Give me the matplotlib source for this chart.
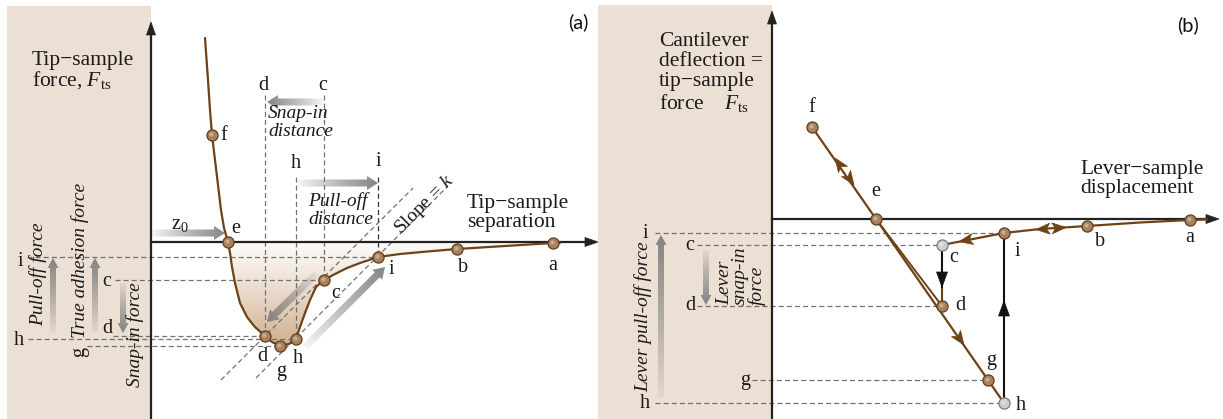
import numpy as np
import matplotlib.pyplot as plt
import matplotlib.patches as mpatches

plt.rcParams['font.family'] = ['Liberation Serif', 'DejaVu Serif']
plt.rcParams['mathtext.fontset'] = 'custom'
plt.rcParams['mathtext.rm'] = 'Liberation Serif'
plt.rcParams['mathtext.it'] = 'Liberation Serif:italic'

BEIGE = '#ecdfd3'
BROWN = '#6f4216'
DOT = '#a8825c'
DOT_EDGE = '#5e3e20'
DASH = '#707070'
AXIS = '#222222'

# ---- panel (a): tip-sample force against separation (origin at axis crossing)
curve_sep = [54, 57, 59, 61, 64, 67, 70, 73, 77, 79, 81, 84, 89, 96, 104, 114, 121, 129,
             138, 145, 149, 154, 159, 165, 173, 182, 196, 209, 227, 249, 282, 306, 354, 402, 409]
curve_force = [204, 162, 132, 107, 82, 57, 32, 14, 0, -11, -25, -41, -61, -75, -85, -94, -100, -104,
               -102, -97, -85, -71, -58, -45, -38, -33, -26, -21, -15, -12, -9, -7, -4, -1, -1]

pts_a_names = ['f', 'e', 'd', 'g', 'h', 'c', 'i', 'b', 'a']
pts_a_sep = [61, 77, 114, 129, 145, 173, 227, 306, 402]
pts_a_force = [107, 0, -94, -104, -97, -38, -15, -7, -1]

# force levels marked on the left of panel (a)
lev_a_names = ['i', 'c', 'd', 'h', 'g']
lev_a_force = [-15, -38, -94, -97, -104]
lev_a_start = [-124, -36, -38, -123, -64]

# ---- panel (b): cantilever deflection against lever-sample displacement
retract_x = [40, 232]
retract_y = [92, -184]
approach_x = [435, 418, 368, 315, 268, 232, 170]
approach_y = [-0.5, -1, -3.5, -7, -10, -14, -26]
snap_x = [104, 170]
snap_y = [0, -87]

pts_b_names = ['f', 'e', 'i', 'c', 'd', 'g', 'h', 'b', 'a']
pts_b_x = [40, 104, 232, 170, 170, 216, 232, 315, 418]
pts_b_y = [92, 0, -14, -26, -87, -161, -184, -7, -1]
pts_b_grey = ['c', 'h']

lev_b_names = ['i', 'c', 'd', 'g', 'h']
lev_b_y = [-14, -26, -87, -161, -184]
lev_b_start = [-117, -75, -75, -20, -117]


def grad_arrow(ax, x0, y0, x1, y1, w=7, hw=14, hl=11, rgb=(0.50, 0.50, 0.50)):
    dx, dy = x1 - x0, y1 - y0
    arr = mpatches.FancyArrow(x0, y0, dx, dy, width=w, head_width=hw, head_length=hl,
                              length_includes_head=True, lw=0, fc='none', ec='none')
    ax.add_patch(arr)
    xs = np.linspace(min(x0, x1) - hw, max(x0, x1) + hw, 240)
    ys = np.linspace(min(y0, y1) - hw, max(y0, y1) + hw, 240)
    X, Y = np.meshgrid(xs, ys)
    t = np.clip(((X - x0) * dx + (Y - y0) * dy) / (dx * dx + dy * dy), 0, 1)
    img = np.zeros(X.shape + (4,))
    img[..., :3] = rgb
    img[..., 3] = 0.06 + 0.9 * t ** 0.9
    im = ax.imshow(img, extent=(xs[0], xs[-1], ys[0], ys[-1]), origin='lower',
                   interpolation='bilinear', zorder=3, aspect='auto')
    im.set_clip_path(arr)


def head(ax, tip, direction, color, length=14, width=11, notch=3.5, z=5):
    d = np.array(direction, float)
    d /= np.hypot(*d)
    n = np.array([-d[1], d[0]])
    tip = np.array(tip, float)
    base = tip - d * length
    poly = [tip, base + n * width / 2, tip - d * (length - notch), base - n * width / 2]
    ax.add_patch(mpatches.Polygon(poly, closed=True, fc=color, ec=color, lw=0.5, zorder=z))


def dots(ax, xs, ys, grey=False):
    fc, ec = ('#cfcfcf', '#7a7a7a') if grey else (DOT, DOT_EDGE)
    ax.plot(xs, ys, 'o', ms=8, mfc=fc, mec=ec, mew=0.9, zorder=6)
    ax.plot(np.array(xs) - 1, np.array(ys) + 1, 'o', ms=3, mfc='white', mec='none',
            alpha=0.35, zorder=6)


def dashed(ax, xs, ys, color=DASH):
    ax.plot(xs, ys, color=color, lw=0.9, ls=(0, (4, 2.5)), zorder=2)


fig = plt.figure(figsize=(12.23, 4.19), dpi=100)
ax_a = fig.add_axes([0, 0, 598 / 1223, 1])
ax_b = fig.add_axes([598 / 1223, 0, 625 / 1223, 1])
for ax in (ax_a, ax_b):
    ax.set_axis_off()
    ax.set_autoscale_on(False)
ax_a.set_xlim(-151, 447)
ax_a.set_ylim(-177, 242)
ax_b.set_xlim(-174, 451)
ax_b.set_ylim(-200, 219)

txt = dict(fontsize=15.5, color='#1a1a1a', zorder=7)
lab = dict(fontsize=14.5, color='#1a1a1a', zorder=7, ha='center', va='center')
ital = dict(fontsize=14, color='#1a1a1a', zorder=7, fontstyle='italic')

# ================= panel (a) =================
ax_a.add_patch(mpatches.Rectangle((-144, -177), 144, 413, fc=BEIGE, ec='none', zorder=0))

# shaded well under the curve
cs = np.array(curve_sep)
cf = np.array(curve_force)
sel = cs >= 77
well = mpatches.Polygon(np.column_stack([cs[sel], cf[sel]]), closed=True, fc='none', ec='none')
ax_a.add_patch(well)
gy = np.linspace(-105, 0, 200)
shade = np.zeros((200, 2, 4))
shade[..., 0], shade[..., 1], shade[..., 2] = 0.78, 0.62, 0.46
shade[..., 3] = (0.05 + 0.8 * (-gy / 105) ** 1.2)[:, None]
im = ax_a.imshow(shade, extent=(77, 409, -105, 0), origin='lower', aspect='auto',
                 interpolation='bilinear', zorder=1)
im.set_clip_path(well)

# axes
ax_a.plot([0, 0], [-177, 212], color=AXIS, lw=1.6, zorder=4)
ax_a.plot([0, 436], [0, 0], color=AXIS, lw=1.6, zorder=4)
head(ax_a, (0, 220), (0, 1), AXIS, length=13, width=9, notch=0)
head(ax_a, (447, 0), (1, 0), AXIS, length=13, width=9, notch=0)

# dashed guides
for name, f0, x0 in zip(lev_a_names, lev_a_force, lev_a_start):
    x1 = pts_a_sep[pts_a_names.index(name)]
    dashed(ax_a, [x0, x1], [f0, f0])
dashed(ax_a, [114, 114], [147, -94])
dashed(ax_a, [173, 173], [147, -38])
dashed(ax_a, [145, 145], [65, -97])
dashed(ax_a, [227, 227], [65, -15], color='#333333')
dashed(ax_a, [70, 262], [-138, 54])
dashed(ax_a, [105, 297], [-136, 56])

# force-distance curve
ax_a.plot(curve_sep, curve_force, color=BROWN, lw=1.6, zorder=5, solid_capstyle='round')
dots(ax_a, pts_a_sep, pts_a_force)

# grey arrows
grad_arrow(ax_a, 0, 9, 74, 9)
grad_arrow(ax_a, 172, 140, 116, 140)
grad_arrow(ax_a, 146, 59, 227, 59)
grad_arrow(ax_a, 166, -31, 116, -80)
grad_arrow(ax_a, 154, -105, 234, -25)
grad_arrow(ax_a, -98, -91, -98, -16, w=6, hw=11, hl=10)
grad_arrow(ax_a, -56, -91, -56, -16, w=6, hw=11, hl=10)
grad_arrow(ax_a, -28, -41, -28, -91, w=6, hw=11, hl=10)

# point labels
for s, xy in [('f', (73, 107)), ('e', (85, 14)), ('c', (185, -51)), ('d', (111, -114)),
              ('g', (130, -129)), ('h', (147, -116)), ('i', (240, -27)), ('b', (312, -26)),
              ('a', (402, -24)), ('d', (112, 157)), ('c', (172, 157)), ('h', (145, 78)),
              ('i', (227, 80)), ('i', (-131, -20)), ('h', (-132, -98)), ('c', (-44, -40)),
              ('d', (-44, -86))]:
    ax_a.text(*xy, s, **lab)
ax_a.text(-71, -110, 'g', rotation=90, **lab)

ax_a.text(-119, 171, 'Tip\u2212sample\nforce, $F_{\\mathrm{ts}}$', ha='left', va='center',
          linespacing=1.0, **txt)
ax_a.text(316, 29, 'Tip\u2212sample\nseparation', ha='left', va='center', linespacing=1.0, **txt)
ax_a.text(29, 18, 'z$_{\\mathit{0}}$', ha='center', va='center', fontsize=14.5, color='#1a1a1a', zorder=7)
ax_a.text(117, 137, 'Snap-in\ndistance', ha='left', va='top', linespacing=1.05, **ital)
ax_a.text(157, 32, 'Pull-off\ndistance', ha='left', va='center', linespacing=1.05, **ital)
ax_a.text(273, 37, 'Slope = $k$', rotation=45, rotation_mode='anchor', ha='center', va='center',
          fontsize=14, color='#1a1a1a', zorder=7)
ax_a.text(-113, -32, 'Pull-off force', rotation=90, ha='center', va='center', **ital)
ax_a.text(-71, -18, 'True adhesion force', rotation=90, ha='center', va='center', **ital)
ax_a.text(-16, -93, 'Snap-in force', rotation=90, ha='center', va='center', **ital)
ax_a.text(427, 220, '(a)', ha='center', va='center', fontsize=14.5, family='Lato', color='#111111')

# ================= panel (b) =================
ax_b.add_patch(mpatches.Rectangle((-174, -200), 174, 414, fc=BEIGE, ec='none', zorder=0))
ax_b.plot([0, 0], [-200, 197], color=AXIS, lw=1.6, zorder=4)
ax_b.plot([0, 436], [0, 0], color=AXIS, lw=1.6, zorder=4)
head(ax_b, (0, 208), (0, 1), AXIS, length=13, width=9, notch=0)
head(ax_b, (447, 0), (1, 0), AXIS, length=13, width=9, notch=0)

for name, y0, x0 in zip(lev_b_names, lev_b_y, lev_b_start):
    x1 = pts_b_x[pts_b_names.index(name)]
    dashed(ax_b, [x0, x1], [y0, y0])

# retract line, snap-in path and approach curve
ax_b.plot(retract_x, retract_y, color=BROWN, lw=1.6, zorder=5)
ax_b.plot(snap_x, snap_y, color=BROWN, lw=1.4, zorder=5)
ax_b.plot(approach_x, approach_y, color=BROWN, lw=1.6, zorder=5)
ax_b.plot([170, 170], [-26, -70], color='#111111', lw=1.5, zorder=5)
ax_b.plot([170, 170], [-70, -87], color=BROWN, lw=1.5, zorder=5)
ax_b.plot([232, 232], [-184, -14], color='#111111', lw=1.5, zorder=5)

u = (192, -276)
head(ax_b, (63, 61), (-192, 276), BROWN)
head(ax_b, (82, 34), u, BROWN)
head(ax_b, (192, -126), u, BROWN)
head(ax_b, (187, -22.7), (-62, -12), BROWN)
head(ax_b, (264, -10.5), (-1, -0.06), BROWN)
head(ax_b, (294, -8.5), (1, 0.06), BROWN)
head(ax_b, (170, -68), (0, -1), '#111111', length=15, width=11, notch=0)
head(ax_b, (232, -82), (0, 1), '#111111', length=15, width=11, notch=0)

brown_idx = [k for k, n in enumerate(pts_b_names) if n not in pts_b_grey]
grey_idx = [k for k, n in enumerate(pts_b_names) if n in pts_b_grey]
dots(ax_b, [pts_b_x[k] for k in brown_idx], [pts_b_y[k] for k in brown_idx])
dots(ax_b, [pts_b_x[k] for k in grey_idx], [pts_b_y[k] for k in grey_idx], grey=True)

grad_arrow(ax_b, -111, -179, -111, -16, w=6, hw=11, hl=10)
grad_arrow(ax_b, -66, -31, -66, -86, w=6, hw=11, hl=10)

for s, xy in [('f', (40, 112)), ('e', (104, 28)), ('c', (182, -38)), ('d', (188, -86)),
              ('g', (219, -141)), ('h', (249, -186)), ('i', (245, -32)), ('b', (328, -22)),
              ('a', (418, -18)), ('i', (-127, -14)), ('c', (-82, -26)), ('d', (-82, -86)),
              ('g', (-27, -161)), ('h', (-127, -184))]:
    ax_b.text(*xy, s, **lab)

ax_b.text(-113, 146, 'Cantilever\ndeflection =\ntip\u2212sample\nforce    $F_{\\mathrm{ts}}$',
          ha='left', va='center', linespacing=1.05, **txt)
ax_b.text(308, 40, 'Lever\u2212sample\ndisplacement', ha='left', va='center', linespacing=1.0, **txt)
ax_b.text(-129, -98, 'Lever pull-off force', rotation=90, ha='center', va='center', **ital)
ax_b.text(-31, -86, 'Lever\nsnap-in\nforce', rotation=90, ha='center', va='bottom',
          multialignment='left', linespacing=0.9, **ital)
ax_b.text(416, 194, '(b)', ha='center', va='center', fontsize=14.5, family='Lato', color='#111111')

fig.savefig('out.png', dpi=100)
